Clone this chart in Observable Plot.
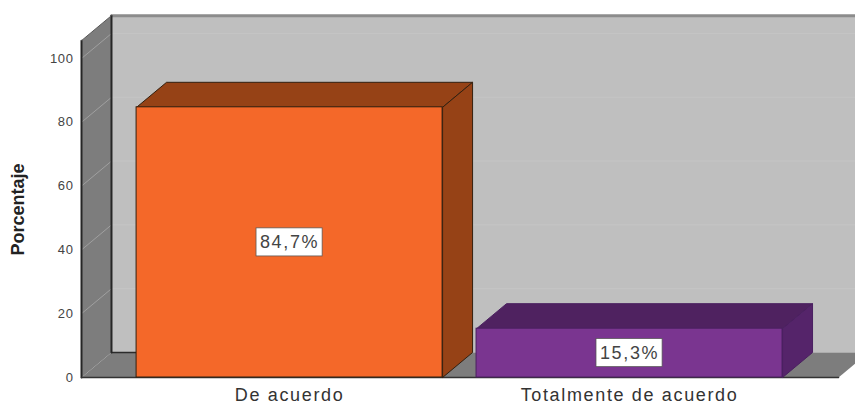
<!DOCTYPE html>
<html>
<head>
<meta charset="utf-8">
<script src="https://cdn.jsdelivr.net/npm/d3@7"></script>
<script src="https://cdn.jsdelivr.net/npm/@observablehq/plot@0.6"></script>
<style>
  html, body { margin: 0; padding: 0; background: #fff; overflow: hidden; }
  svg { display: block; }
  g[aria-label="y-axis tick label"] { letter-spacing: 0.6px; }
</style>
</head>
<body>
<div id="chart"></div>
<script>
// Survey answers and their share of respondents
const categories = ["De acuerdo", "Totalmente de acuerdo"];
const percentages = [84.7, 15.3];
const valueLabels = ["84,7%", "15,3%"];
const frontColors = ["#f46829", "#7a3590"];
const topColors = ["#964216", "#4f2260"];
const sideColors = ["#964216", "#55246a"];
const edgeColors = ["#33200f", "#4a2060"];
const yTicks = [0, 20, 40, 60, 80, 100];
const yTitle = "Porcentaje";

// Box geometry in axis units: x counts bar widths, y counts percent
const barLeft = [0.18, 1.291];
const barWidth = 1;
const depthX = 0.098;
const depthY = 7.84;
const frontTop = 105.6;
const floorRight = 2.474;
const boxHalfWidth = 0.108;
const boxHalfHeight = 4.4;

// Outline of a polygon, each corner shifted back by a share of the depth
const poly = (corners) =>
  corners.map(([x, y, back]) => ({x: x + back * depthX, y: y + back * depthY}));

const wall = poly([[0, 0, 0], [0, frontTop, 0], [0, frontTop, 1], [0, 0, 1], [0, 0, 0]]);
const floor = poly([[0, 0, 0], [floorRight, 0, 0], [floorRight, 0, 1], [0, 0, 1], [0, 0, 0]]);
const floorFront = poly([[0, 0, 0], [floorRight, 0, 0]]);
const floorBack = poly([[0, 0, 1], [barLeft[0], 0, 1]]);
const backWall = poly([[0, 0, 1], [3, 0, 1], [3, frontTop, 1], [0, frontTop, 1], [0, 0, 1]]);
const backTop = poly([[0, frontTop, 1], [3, frontTop, 1]]);

const bars = categories.map((category, i) => {
  const x1 = barLeft[i], x2 = x1 + barWidth, v = percentages[i];
  return {
    category, x1, x2, v, label: valueLabels[i], front: frontColors[i], edge: edgeColors[i],
    top: poly([[x1, v, 0], [x2, v, 0], [x2, v, 1], [x1, v, 1], [x1, v, 0]]),
    side: poly([[x2, 0, 0], [x2, v, 0], [x2, v, 1], [x2, 0, 1], [x2, 0, 0]]),
    topColor: topColors[i], sideColor: sideColors[i]
  };
});

const surface = (pts, fill, stroke = "none", strokeWidth = 1) =>
  Plot.line(pts, {x: "x", y: "y", fill, stroke, strokeWidth, curve: "linear"});
const edge = (pts, stroke, strokeWidth) =>
  Plot.line(pts, {x: "x", y: "y", stroke, strokeWidth});

// Text marks whose glyphs sit further apart than the font's default spacing
const spaced = (index, scales, values, dimensions, context, next) => {
  const g = next(index, scales, values, dimensions, context);
  g.style.letterSpacing = "1.65px";
  return g;
};

const gridTicks = yTicks.filter(t => t > 0);
const wallGrid = gridTicks.map(t => poly([[0, t, 0], [0, t, 1]]));
const backGrid = gridTicks.map(t => poly([[0, t, 1], [3, t, 1]]));
const midX = d => (d.x1 + d.x2) / 2;

const chart = Plot.plot({
  width: 855,
  height: 406,
  marginTop: 14,
  marginBottom: 29,
  marginLeft: 81,
  marginRight: 0,
  style: {background: "#fff", fontFamily: "'Liberation Sans', Arial, sans-serif"},
  x: {domain: [0, 787 / 306], range: [81, 868], axis: null},
  y: {domain: [0, 363 / 3.19], range: [377, 14], axis: null},
  marks: [
    surface(backWall, "#bfbfbf"),
    ...backGrid.map(g => edge(g, "#c5c5c5", 1)),
    edge(backTop, "#8c8c8c", 3),
    surface(floor, "#7d7d7d"),
    edge(floorBack, "#2b2b2b", 1.5),
    surface(wall, "#7d7d7d"),
    ...wallGrid.map(g => edge(g, "#a0a0a0", 1)),
    edge(poly([[0, 0, 0], [0, frontTop, 0]]), "#262626", 2),
    edge(poly([[0, 0, 1], [0, frontTop, 1]]), "#262626", 2),
    edge(poly([[0, frontTop, 0], [0, frontTop, 1]]), "#555", 1),
    edge(floorFront, "#333", 1.5),
    ...bars.flatMap(b => [
      surface(b.top, b.topColor, b.edge),
      surface(b.side, b.sideColor, b.edge),
      Plot.rect([b], {x1: "x1", x2: "x2", y1: 0, y2: "v", fill: "front", stroke: "edge", strokeWidth: 1})
    ]),
    Plot.rect(bars, {
      x1: d => midX(d) - boxHalfWidth, x2: d => midX(d) + boxHalfWidth,
      y1: d => d.v / 2 - boxHalfHeight, y2: d => d.v / 2 + boxHalfHeight,
      fill: "#fff", stroke: "#555", strokeWidth: 0.75
    }),
    Plot.text(bars, {
      x: midX, y: d => d.v / 2, text: "label", render: spaced,
      fontSize: 18, fill: "#444"
    }),
    Plot.axisY(yTicks, {
      anchor: "left", tickSize: 0, tickPadding: 8, fontSize: 13, fill: "#444", label: null
    }),
    Plot.text([yTitle], {
      frameAnchor: "left", textAnchor: "middle", dx: -63, dy: 13.5, rotate: -90,
      fontSize: 18, fontWeight: "bold", fill: "#222"
    }),
    Plot.text(bars, {
      x: midX, y: 0, dy: 18, text: "category", render: spaced,
      fontSize: 18, fill: "#333"
    })
  ]
});
document.getElementById("chart").append(chart);
</script>
</body>
</html>
